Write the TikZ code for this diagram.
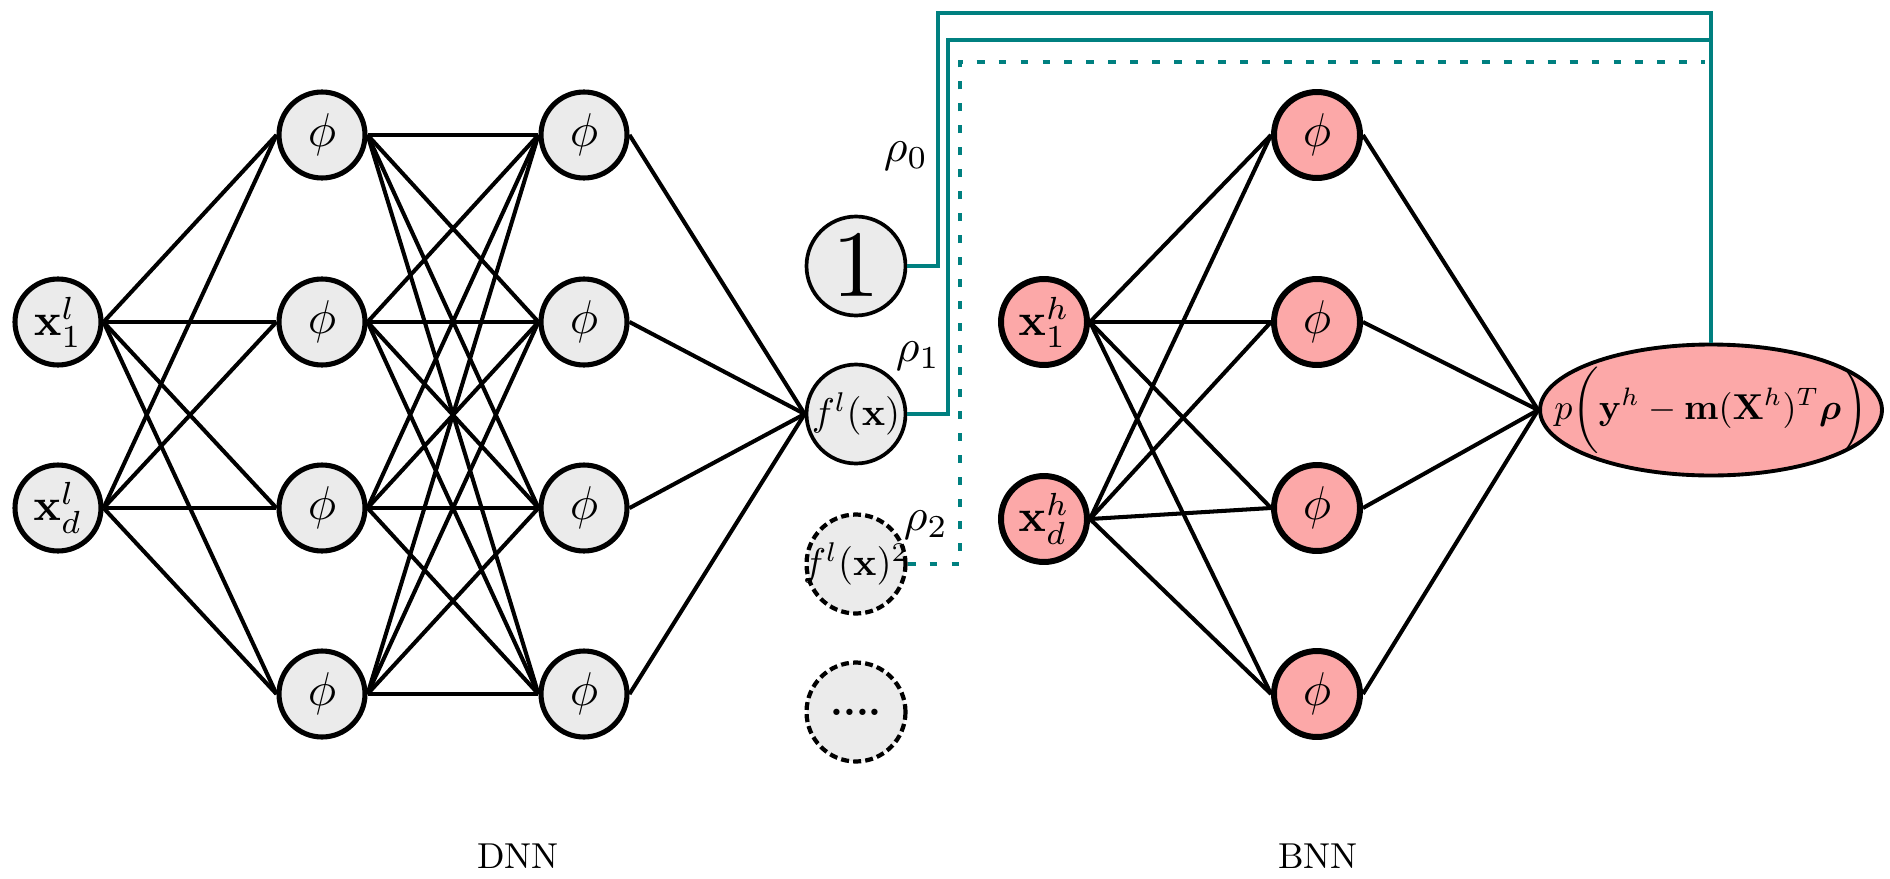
\documentclass[tikz,border=0pt]{standalone}
\usepackage{amsmath}
\usepackage{graphicx}
\usetikzlibrary{shapes.geometric}
\definecolor{nodegray}{RGB}{235,235,235}
\definecolor{nodepink}{RGB}{252,168,168}
\definecolor{linkteal}{RGB}{0,128,128}
% enlarged node contents
\newcommand{\nlab}[2][2.6]{\scalebox{#1}{#2}}
\newcommand{\wlab}[2][2.2]{\makebox[0pt]{\scalebox{#1}{#2}}}

\begin{document}
\begin{tikzpicture}[x=0.02cm,y=-0.02cm,
  neuron/.style={circle, draw=black, line width=2.9pt, fill=nodegray,
    minimum size=1.72cm, inner sep=0pt},
  hneuron/.style={neuron, fill=nodepink, line width=3.4pt},
  basis/.style={circle, draw=black, line width=2.1pt, fill=nodegray,
    minimum size=1.98cm, inner sep=0pt},
  basisdash/.style={basis, line width=2.4pt, dash pattern=on 4.5pt off 2.4pt},
  edge/.style={line width=2.3pt},
  coef/.style={draw=linkteal, line width=2pt},
  coefdash/.style={coef, dash pattern=on 4.5pt off 8pt}
]
\useasboundingbox (0,0) rectangle (1890,879);

% ---------- DNN ----------
\node[neuron] (x1l) at (58,322) {\nlab{$\mathbf{x}_1^l$}};
\node[neuron] (xdl) at (58,508) {\nlab{$\mathbf{x}_d^l$}};
\foreach \i/\y in {1/135,2/322,3/508,4/694} {
  \node[neuron] (a\i) at (322,\y) {\nlab[2.7]{$\phi$}};
  \node[neuron] (b\i) at (584,\y) {\nlab[2.7]{$\phi$}};
}

% basis functions
\node[basis] (one) at (856,266) {\nlab[5.4]{$1$}};
\node[basis] (f1) at (856,414) {\wlab{$f^l(\mathbf{x})$}};
\node[basisdash] (f2) at (856,564) {\wlab{$f^l(\mathbf{x})^2$}};
\node[basisdash] (f3) at (856,712) {\wlab[2.3]{\bfseries ....}};

\foreach \a in {x1l,xdl}
  \foreach \b in {a1,a2,a3,a4}
    \draw[edge] (\a.east) -- (\b.west);
\foreach \a in {a1,a2,a3,a4}
  \foreach \b in {b1,b2,b3,b4}
    \draw[edge] (\a.east) -- (\b.west);
\foreach \a in {b1,b2,b3,b4}
  \draw[edge] (\a.east) -- (f1.west);

% ---------- BNN ----------
\node[hneuron] (x1h) at (1044,322) {\nlab{$\mathbf{x}_1^h$}};
\node[hneuron] (xdh) at (1044,519) {\nlab{$\mathbf{x}_d^h$}};
\foreach \i/\y in {1/135,2/322,3/508,4/694}
  \node[hneuron] (h\i) at (1317,\y) {\nlab[2.7]{$\phi$}};
\node[ellipse, draw=black, line width=2.2pt, fill=nodepink, inner sep=0pt,
  minimum width=6.84cm, minimum height=2.62cm] (ell) at (1711,410)
  {\wlab[2.05]{$p\biggl(\mathbf{y}^h-\mathbf{m}(\mathbf{X}^h)^T\boldsymbol{\rho}\biggr)$}};

\foreach \a in {x1h,xdh}
  \foreach \b in {h1,h2,h3,h4}
    \draw[edge] (\a.east) -- (\b.west);
\foreach \a in {h1,h2,h3,h4}
  \draw[edge] (\a.east) -- (ell.west);

% ---------- coefficient links ----------
\coordinate (c0) at (938,13);
\coordinate (c1) at (948,40);
\coordinate (c2) at (960,62);
\coordinate (c2e) at (1705,62);
\draw[coef] (one.east) -| (c0) -| (ell.north);
\draw[coef] (f1.east) -| (c1) -- (c1 -| ell.north);
\draw[coefdash] (f2.east) -| (c2) -- (c2e);

\node (r0) at (906,156) {\scalebox{2.6}{$\rho_0$}};
\node (r1) at (918,356) {\scalebox{2.6}{$\rho_1$}};
\node (r2) at (926,525) {\scalebox{2.6}{$\rho_2$}};

% ---------- captions ----------
\node (dnn) at (518,856) {\scalebox{2.05}{DNN}};
\node (bnn) at (1318,856) {\scalebox{2.05}{BNN}};
\end{tikzpicture}
\end{document}
